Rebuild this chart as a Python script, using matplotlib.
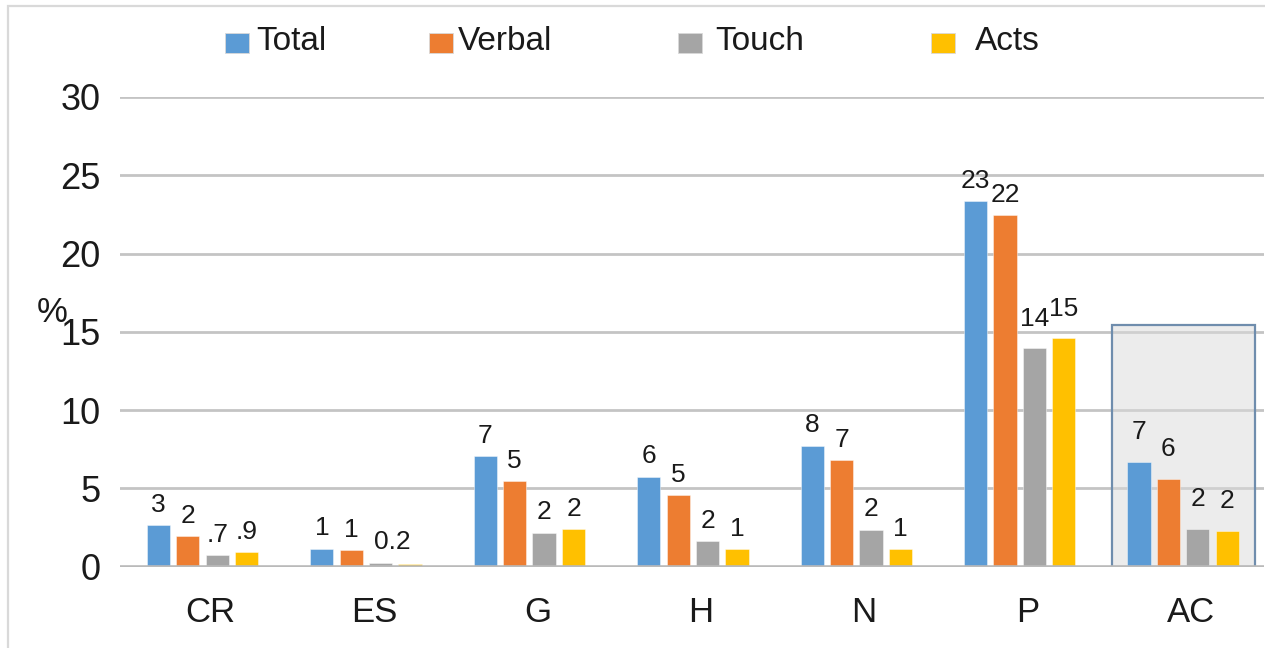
import matplotlib
matplotlib.use("Agg")
import matplotlib.pyplot as plt
from matplotlib.patches import Rectangle
from matplotlib.transforms import ScaledTranslation
import numpy as np

plt.rcParams['font.family'] = ['Liberation Sans', 'DejaVu Sans']

categories = ["CR", "ES", "G", "H", "N", "P", "AC"]
series_names = ["Total", "Verbal", "Touch", "Acts"]
total = [2.65, 1.15, 7.05, 5.75, 7.72, 23.35, 6.68]
verbal = [1.95, 1.05, 5.45, 4.55, 6.80, 22.45, 5.57]
touch = [0.72, 0.25, 2.17, 1.62, 2.36, 13.96, 2.38]
acts = [0.93, 0.15, 2.38, 1.13, 1.13, 14.62, 2.28]
labels_total = ["3", "1", "7", "6", "8", "23", "7"]
labels_verbal = ["2", "1", "5", "5", "7", "22", "6"]
labels_touch = [".7", "0.2", "2", "2", "2", "14", "2"]
labels_acts = [".9", "", "2", "1", "1", "15", "2"]
yticks = [0, 5, 10, 15, 20, 25, 30]
highlight_top = 15.45

colors = ["#5B9BD5", "#ED7D31", "#A5A5A5", "#FFC000"]
values = [total, verbal, touch, acts]
labels = [labels_total, labels_verbal, labels_touch, labels_acts]

W, H = 1265, 648
fig = plt.figure(figsize=(W / 100, H / 100), dpi=100)
ax = fig.add_axes([120 / W, (H - 566.7) / H, (1264 - 120) / W, (566.7 - 97) / H])

x = np.arange(len(categories))
pitch = 0.18
width = 0.142
ax.set_xlim(-0.505, 6.495)
ax.set_ylim(0, 30)

# gridlines
for yv in yticks[1:]:
    ax.axhline(yv, color="#C4C4C4", lw=2.0, zorder=1)
ax.axhline(0, color="#BABABA", lw=2.6, zorder=6)

# highlighted AC box
ax.add_patch(Rectangle((6 - 0.437, 0), 0.874, highlight_top,
                       facecolor=(0.86, 0.86, 0.86, 0.5), edgecolor="#6F8DAD",
                       lw=1.6, zorder=2))

for k in range(4):
    pos = x + (k - 1.5) * pitch
    ax.bar(pos, values[k], width=width, color=colors[k], zorder=3,
           edgecolor=(1, 1, 1, 0.5), linewidth=0.6)
    for i in range(len(categories)):
        t = labels[k][i]
        if not t:
            continue
        dx = 12 if (i == 1 and k == 2) else 0
        dy = 6
        if i == 6:
            dy = 13
        if i == 5 and k >= 2:
            dy = 12
        ax.annotate(t, (pos[i], values[k][i]), xytext=(dx * 0.72, dy),
                    textcoords="offset points", ha="center", va="bottom",
                    fontsize=19, color="#1a1a1a", zorder=7)

ax.set_yticks(yticks)
ax.set_yticklabels([str(v) for v in yticks], fontsize=26, color="#1a1a1a")
ax.set_xticks(x)
ax.set_xticklabels(categories, fontsize=25, color="#1a1a1a")
ax.tick_params(axis="y", length=0, pad=14)
ax.tick_params(axis="x", length=0, pad=21)
off = ScaledTranslation(8 / 100, 0, fig.dpi_scale_trans)
for lab in ax.get_xticklabels():
    lab.set_transform(lab.get_transform() + off)
for s in ax.spines.values():
    s.set_visible(False)

fig.text(52 / W, 1 - 313 / H, "%", fontsize=25, ha="center", va="center", color="#1a1a1a")

# legend (manual)
sq_x = [225, 429, 678, 931]
txt_x = [256, 458, 715, 975]
for k in range(4):
    fig.patches.append(Rectangle((sq_x[k] / W, 1 - 53 / H), 24 / W, 20 / H,
                                 transform=fig.transFigure, facecolor=colors[k],
                                 edgecolor=(0.85, 0.85, 0.85), lw=0.6))
    fig.text(txt_x[k] / W, 1 - 42 / H, series_names[k], fontsize=24,
             ha="left", va="center", color="#1a1a1a")

# outer frame (cropped at right/bottom)
fig.patches.append(Rectangle((8 / W, -0.1), 1.2, 1 - 6 / H + 0.1,
                             transform=fig.transFigure, fill=False,
                             edgecolor="#D9D9D9", lw=1.6))

fig.savefig("out.png", dpi=100)
